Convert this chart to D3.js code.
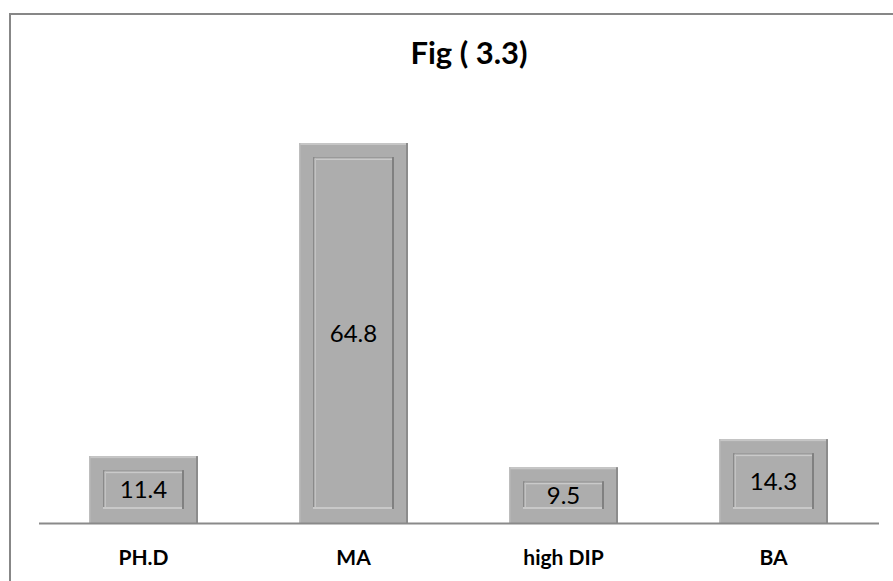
<!DOCTYPE html>
<html>
<head>
<meta charset="utf-8">
<script src="https://cdn.jsdelivr.net/npm/d3@7"></script>
<style>
  html, body { margin: 0; padding: 0; background: #fff; }
  svg { display: block; }
</style>
</head>
<body>
<script>
const categories = ["PH.D", "MA", "high DIP", "BA"];
const values = [11.4, 64.8, 9.5, 14.3];
const labels = ["11.4", "64.8", "9.5", "14.3"];
const title = "Fig ( 3.3)";

const W = 893, H = 581;
const svg = d3.select("body").append("svg").attr("width", W).attr("height", H);

// outer chart frame (extends beyond right/bottom of picture)
svg.append("rect")
  .attr("x", 10).attr("y", 14)
  .attr("width", 1000).attr("height", 1000)
  .attr("fill", "#fff").attr("stroke", "#878787").attr("stroke-width", 2);

const baseY = 523;
const x = d3.scaleBand().domain(categories).range([38.5, 878.5])
  .paddingInner(0.481).paddingOuter(0.2405);
const y = d3.scaleLinear().domain([0, 70]).range([baseY, baseY - 70 * 5.864]);

// title
svg.append("text")
  .attr("x", 469).attr("y", 64)
  .attr("text-anchor", "middle")
  .attr("font-family", "Lato, 'Open Sans', sans-serif")
  .attr("font-weight", "bold")
  .attr("font-size", 31)
  .attr("fill", "#000")
  .text(title);

const inset = 14;
const g = svg.append("g");
const bars = g.selectAll("g.bar").data(categories).enter().append("g").attr("class", "bar");

bars.each(function(c, i) {
  const sel = d3.select(this);
  const x0 = x(c), bw = x.bandwidth();
  const y0 = y(values[i]), bh = baseY - y0;
  // outer body
  sel.append("rect").attr("x", x0).attr("y", y0).attr("width", bw).attr("height", bh).attr("fill", "#adadad");
  // outer bevel edges
  sel.append("rect").attr("x", x0).attr("y", y0).attr("width", bw).attr("height", 2).attr("fill", "#c6c6c6");
  sel.append("rect").attr("x", x0).attr("y", y0).attr("width", 1.5).attr("height", bh).attr("fill", "#bdbdbd");
  sel.append("rect").attr("x", x0 + bw - 2).attr("y", y0).attr("width", 2).attr("height", bh).attr("fill", "#8c8c8c");
  // inner panel
  const ix = x0 + inset, iy = y0 + inset, iw = bw - 2 * inset, ih = bh - 2 * inset;
  sel.append("rect").attr("x", ix).attr("y", iy).attr("width", iw).attr("height", ih).attr("fill", "#adadad");
  sel.append("rect").attr("x", ix).attr("y", iy).attr("width", iw).attr("height", 1.5).attr("fill", "#9a9a9a");
  sel.append("rect").attr("x", ix).attr("y", iy + 1.5).attr("width", iw).attr("height", 1.5).attr("fill", "#cacaca");
  sel.append("rect").attr("x", ix).attr("y", iy).attr("width", 1.5).attr("height", ih).attr("fill", "#8a8a8a");
  sel.append("rect").attr("x", ix + 1.5).attr("y", iy + 1.5).attr("width", 1.5).attr("height", ih - 1.5).attr("fill", "#c2c2c2");
  sel.append("rect").attr("x", ix + iw - 2).attr("y", iy).attr("width", 2).attr("height", ih).attr("fill", "#808080");
  sel.append("rect").attr("x", ix).attr("y", iy + ih - 2).attr("width", iw - 2).attr("height", 2).attr("fill", "#c8c8c8");
  // value label
  sel.append("text")
    .attr("x", x0 + bw / 2).attr("y", (y0 + baseY) / 2)
    .attr("dy", "0.36em")
    .attr("text-anchor", "middle")
    .attr("font-family", "Lato, 'Open Sans', sans-serif")
    .attr("font-size", 24)
    .attr("fill", "#000")
    .text(labels[i]);
});

// baseline axis
const xAxis = d3.axisBottom(x).tickSize(0).tickPadding(0);
const ax = svg.append("g").attr("transform", `translate(0,${baseY})`).call(xAxis);
ax.select(".domain").attr("stroke", "#8a8a8a").attr("stroke-width", 1.8);
ax.selectAll(".tick text")
  .attr("y", 42)
  .attr("dy", 0)
  .attr("font-family", "Lato, 'Open Sans', sans-serif")
  .attr("font-weight", "bold")
  .attr("font-size", 21)
  .attr("fill", "#000");
</script>
</body>
</html>
